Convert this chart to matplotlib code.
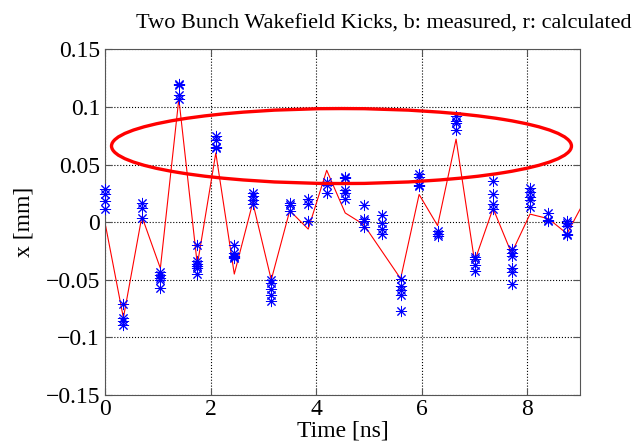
import matplotlib
matplotlib.use("Agg")
from matplotlib import pyplot
from matplotlib.patches import Ellipse

# bunch times [ns] and measured kicks [mm] (several shots per bunch)
bunch_times = [0.0, 0.35, 0.70, 1.05, 1.40, 1.75, 2.10, 2.45, 2.80, 3.15, 3.50, 3.85, 4.20,
               4.55, 4.90, 5.25, 5.60, 5.95, 6.30, 6.65, 7.00, 7.35, 7.70, 8.05, 8.40, 8.75]
measured = [
    [0.029, 0.024, 0.018, 0.011],
    [-0.071, -0.083, -0.086, -0.089],
    [0.017, 0.012, 0.004],
    [-0.043, -0.046, -0.048, -0.050, -0.057],
    [0.120, 0.119, 0.110, 0.107],
    [-0.020, -0.034, -0.036, -0.038, -0.040, -0.045],
    [0.075, 0.071, 0.065, 0.064],
    [-0.020, -0.027, -0.029, -0.030, -0.031],
    [0.025, 0.023, 0.019, 0.016],
    [-0.050, -0.053, -0.058, -0.063, -0.068],
    [0.017, 0.015, 0.010],
    [0.020, 0.016, 0.001],
    [0.035, 0.032, 0.025],
    [0.039, 0.038, 0.028, 0.025, 0.020],
    [0.015, 0.003, 0.001, -0.004],
    [0.006, -0.001, -0.006, -0.010],
    [-0.049, -0.055, -0.059, -0.063, -0.077],
    [0.042, 0.039, 0.032, 0.031],
    [-0.008, -0.010, -0.012],
    [0.092, 0.088, 0.086, 0.080],
    [-0.030, -0.032, -0.037, -0.042],
    [0.036, 0.024, 0.016, 0.011],
    [-0.023, -0.027, -0.029, -0.040, -0.043, -0.054],
    [0.030, 0.026, 0.022, 0.019, 0.013],
    [0.008, 0.002, 0.001],
    [0.001, -0.001, -0.003, -0.010, -0.011],
]

# calculated kicks
calc_times = [0.0, 0.35, 0.70, 1.05, 1.40, 1.75, 2.10, 2.45, 2.80, 3.15, 3.50, 3.85, 4.20,
              4.55, 4.90, 5.60, 5.95, 6.30, 6.65, 7.00, 7.35, 7.70, 8.05, 8.40, 8.75, 9.10]
calc_kick = [0.0, -0.083, 0.005, -0.040, 0.107, -0.037, 0.060, -0.045, 0.017, -0.050, 0.010,
             -0.006, 0.045, 0.008, -0.002, -0.049, 0.024, -0.003, 0.072, -0.034, 0.012, -0.027,
             0.007, 0.003, -0.010, 0.020]

pyplot.rcParams["font.family"] = "Liberation Serif"

fig = pyplot.figure(figsize=(6.32, 4.43), dpi=100)
ax = fig.add_axes([0.166, 0.108, 0.752, 0.781])

ax.plot(calc_times, calc_kick, color="red", linewidth=0.8, zorder=2)
for t, vals in zip(bunch_times, measured):
    ax.plot([t] * len(vals), vals, linestyle="none", marker=(8, 2, 0), markersize=8,
            markeredgewidth=0.7, color="blue", zorder=3, clip_on=False)

ax.add_patch(Ellipse((4.48, 0.066), 8.71, 0.065, fill=False, edgecolor="red",
                     linewidth=2.4, zorder=4))

ax.set_xlim(0, 9)
ax.set_ylim(-0.15, 0.15)
ax.set_xticks([0, 2, 4, 6, 8])
ax.set_yticks([-0.15, -0.1, -0.05, 0, 0.05, 0.1, 0.15])
ax.set_yticklabels(["\u22120.15", "\u22120.1", "\u22120.05", "0", "0.05", "0.1", "0.15"])
ax.grid(True, linestyle=":", color="black", linewidth=0.8)
ax.tick_params(direction="in", top=True, right=True, labelsize=17, length=5, color="#555555")
ax.tick_params(axis="x", pad=3)
for s in ax.spines.values():
    s.set_color("#555555")

ax.set_xlabel("Time [ns]", fontsize=17, labelpad=0)
ax.set_ylabel("x [mm]", fontsize=17, labelpad=8)
fig.text(0.607, 0.935, "Two Bunch Wakefield Kicks, b: measured, r: calculated",
         ha="center", fontsize=16)

fig.savefig("out.png")
